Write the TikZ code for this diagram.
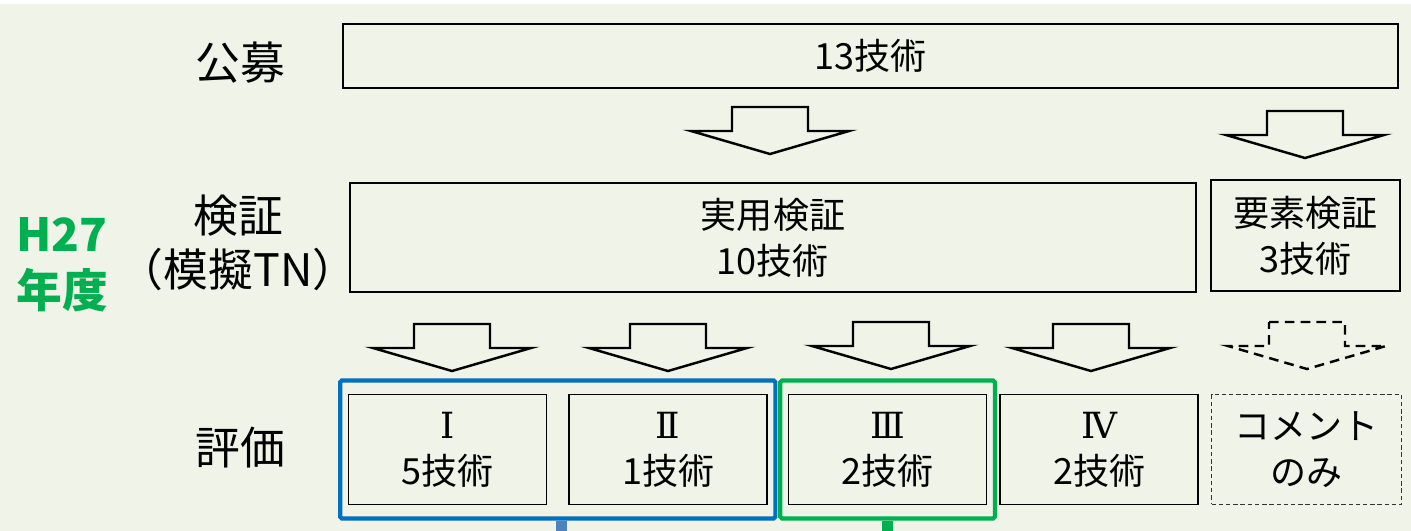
\documentclass[tikz,border=0pt]{standalone}
\usepackage{fontspec}
\setmainfont{Noto Sans CJK JP}
\newfontfamily\numeralfont{DejaVu Serif}
\usepackage{xcolor}
\usepackage{tikz}
\definecolor{pagebg}{RGB}{240,243,231}
\definecolor{frameblue}{RGB}{0,112,192}
\definecolor{linkblue}{RGB}{79,129,189}
\definecolor{framegreen}{RGB}{0,176,80}
\usetikzlibrary{positioning, fit, backgrounds}

\tikzset{
    pics/downarrow/.style={code={
        \draw[line width=1.4pt, line join=miter, #1] (-38,0) -- (38,0) -- (38,24) -- (79,24)
            -- (0,47) -- (-79,24) -- (-38,24) -- cycle;
    }},
    pics/downarrow/.default=solid
}

\begin{document}
\begin{tikzpicture}[
    x=0.02cm, y=-0.02cm,
    node distance=0.42cm,
    stagebox/.style={rectangle, draw, line width=0.9pt, align=center, inner sep=0pt,
                     font=\fontsize{20.5}{26}\selectfont},
    evalbox/.style={stagebox, minimum width=3.96cm, minimum height=2.2cm},
    rowlabel/.style={align=center, font=\fontsize{25.5}{31}\selectfont},
    groupframe/.style={rectangle, line width=2.4pt, rounded corners=1pt,
                       inner xsep=4.3pt, inner ysep=7.5pt}
]
    \useasboundingbox (0,0) rectangle (1411,531);
    \fill[pagebg] (0,4) rectangle (1411,531);
    \coordinate (pagefoot) at (0,531);

    % row labels
    \node[rowlabel] (koubo) at (240,63) {公募};
    \node[rowlabel] (kenshou) at (238,243) {検証\\（模擬TN）};
    \node[rowlabel] (hyouka) at (240,448) {評価};
    \node[align=center, text=framegreen, font=\fontsize{26}{32}\bfseries] (nendo) at (62,265) {H27\\年度};

    % stages
    \node[stagebox, minimum width=21.1cm, minimum height=1.28cm] (pub) at (870.5,56) {13技術};
    \node[stagebox, minimum width=16.92cm, minimum height=2.18cm] (jitsuyou) at (773,237.5) {実用検証\\10技術};
    \node[stagebox, minimum width=3.78cm, minimum height=2.22cm] (youso) at (1305.5,235.5) {要素検証\\3技術};

    \node[evalbox] (ev1) at (447.5,449.5) {{\numeralfont Ⅰ}\\5技術};
    \node[evalbox, right=of ev1] (ev2) {{\numeralfont Ⅱ}\\1技術};
    \node[evalbox, right=0.4cm of ev2] (ev3) {{\numeralfont Ⅲ}\\2技術};
    \node[evalbox, right=0.24cm of ev3] (ev4) {{\numeralfont Ⅳ}\\2技術};
    \node[stagebox, draw=black!80, dash pattern=on 2.5pt off 1.6pt, minimum width=3.8cm,
          minimum height=2.2cm, right=0.24cm of ev4] (comment) {コメント\\のみ};

    % groups
    \node[groupframe, draw=frameblue, fit=(ev1)(ev2)] (blueframe) {};
    \node[groupframe, draw=framegreen, fit=(ev3)] (greenframe) {};
    \draw[linkblue, line width=6.3pt] ([xshift=0.07cm]blueframe.south) -- ([xshift=0.07cm]blueframe.south |- pagefoot);
    \draw[framegreen, line width=6.3pt] (greenframe.south) -- (greenframe.south |- pagefoot);

    % arrows
    \pic at (770,107) {downarrow};
    \pic at (1305,111) {downarrow};
    \pic at (452,324) {downarrow};
    \pic at (668,324) {downarrow};
    \pic at (891,322) {downarrow};
    \pic at (1091,324) {downarrow};
    \pic at (1307,322) {downarrow={dash pattern=on 5.5pt off 3.5pt}};
\end{tikzpicture}
\end{document}
